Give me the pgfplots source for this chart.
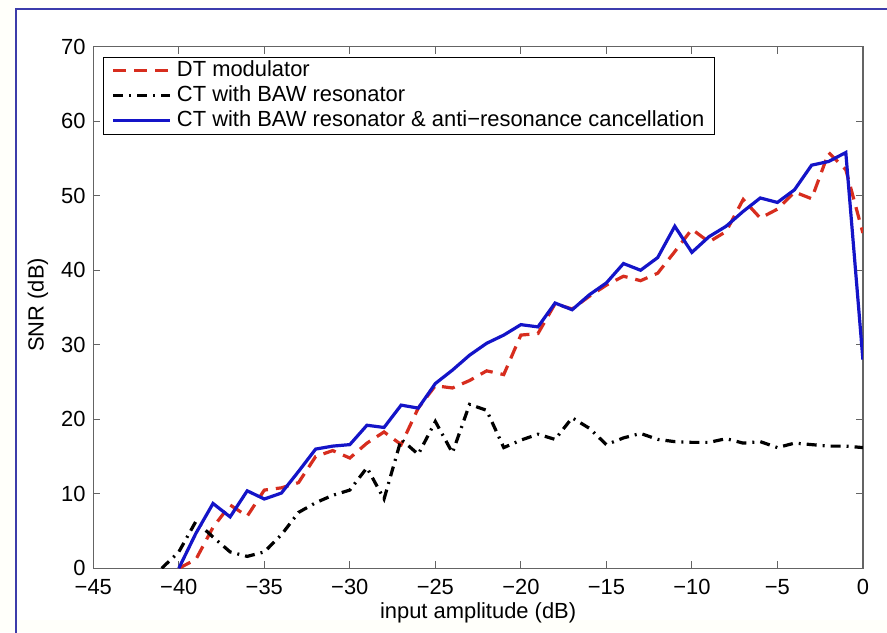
\documentclass[border=0pt]{standalone}
\usepackage{fontspec}
\setmainfont{Liberation Sans}
\usepackage{pgfplots}
\pgfplotsset{compat=1.18}
\definecolor{dtred}{RGB}{215,45,30}
\definecolor{ctblue}{RGB}{20,20,200}
\definecolor{framebl}{RGB}{60,60,170}
\definecolor{axgray}{RGB}{100,100,100}
\begin{document}
\fontsize{11}{13}\selectfont
\begin{tikzpicture}[x=1bp,y=1bp]
\useasboundingbox (-46.65,-31.85) rectangle (396.85,284.15);
\fill[yellow!2] (-46.65,-31.85) rectangle (396.85,284.15);
\fill[white] (-38.65,-26) rectangle (400,279.65);
\draw[framebl, line width=1bp] (-38.65,-40) -- (-38.65,279.65) -- (410,279.65);
\begin{axis}[at={(0,0)}, anchor=south west, scale only axis,
  width=384.8bp, height=260.8bp,
  xmin=-45, xmax=0, ymin=0, ymax=70,
  xtick={-45,-40,...,0},
  xticklabels={−45,−40,−35,−30,−25,−20,−15,−10,−5,0},
  ytick={0,10,...,70},
  tick align=inside, tick pos=both,
  major tick length=3.5bp,
  axis line style={axgray, line width=0.6bp},
  tick style={axgray, line width=0.6bp},
  /pgf/number format/assume math mode=true,
  tick label style={font=\fontsize{11}{13}\selectfont},
  x tick label style={yshift=-1.8bp},
  label style={font=\fontsize{11}{13}\selectfont},
  xlabel={input amplitude (dB)}, ylabel={SNR (dB)},
  xlabel style={at={(axis description cs:0.5,-0.085)}, anchor=center},
  ylabel style={at={(axis description cs:-0.072,0.505)}, anchor=center},
  legend cell align=left,
  legend image code/.code={\draw[#1] (0bp,0bp) -- (28.4bp,0bp);},
  legend style={at={(axis description cs:0.0126,0.981)}, anchor=north west,
    draw=black, line width=0.6bp, fill=white, row sep=0pt, column sep=1.5bp,
    inner xsep=4bp, inner ysep=0.5bp,
    nodes={inner sep=1.2bp, text height=7.8bp, text depth=2.3bp},
    font=\fontsize{11}{13}\selectfont},
]
\addplot[dtred, line width=1.6bp, dash pattern=on 6.5bp off 4bp] coordinates {
(-40,0) (-39,1.2) (-38,5.5) (-37,8.5) (-36,7.0) (-35,10.5) (-34,10.8) (-33,11.5)
(-32,15.0) (-31,15.8) (-30,14.8) (-29,16.8) (-28,18.3) (-27,16.6) (-26,21.5)
(-25,24.5) (-24,24.2) (-23,25.2) (-22,26.5) (-21,26.0) (-20,31.3) (-19,31.5)
(-18,35.5) (-17,34.8) (-16,36.5) (-15,38.0) (-14,39.2) (-13,38.6) (-12,39.6)
(-11,42.5) (-10,45.5) (-9,43.8) (-8,45.2) (-7,49.5) (-6,47.0) (-5,48.2)
(-4,50.5) (-3,49.6) (-2,55.8) (-1,53.5) (0,45.0)};
\addlegendentry{DT modulator}
\addplot[black, line width=1.6bp, dash pattern=on 5bp off 3bp on 1bp off 3bp] coordinates {
(-41,0) (-40,2.2) (-39,6.3) (-38,4.2) (-37,2.2) (-36,1.6) (-35,2.2) (-34,4.5)
(-33,7.5) (-32,8.8) (-31,9.8) (-30,10.5) (-29,13.5) (-28,9.3) (-27,17.3)
(-26,15.3) (-25,19.7) (-24,15.5) (-23,22.0) (-22,21.2) (-21,16.2) (-20,17.2)
(-19,18.0) (-18,17.3) (-17,20.2) (-16,18.8) (-15,16.6) (-14,17.5) (-13,18.1)
(-12,17.3) (-11,17.0) (-10,16.9) (-9,16.9) (-8,17.4) (-7,16.8) (-6,17.0)
(-5,16.2) (-4,16.8) (-3,16.6) (-2,16.4) (-1,16.4) (0,16.2)};
\addlegendentry{CT with BAW resonator}
\addplot[ctblue, line width=1.6bp] coordinates {
(-40,0) (-39,4.7) (-38,8.7) (-37,6.9) (-36,10.4) (-35,9.3) (-34,10.1) (-33,13.0)
(-32,16.0) (-31,16.4) (-30,16.6) (-29,19.2) (-28,18.9) (-27,21.9) (-26,21.5)
(-25,24.8) (-24,26.6) (-23,28.6) (-22,30.2) (-21,31.3) (-20,32.7) (-19,32.4)
(-18,35.6) (-17,34.7) (-16,36.7) (-15,38.3) (-14,40.9) (-13,40.0) (-12,41.7)
(-11,45.9) (-10,42.4) (-9,44.5) (-8,45.9) (-7,47.9) (-6,49.7) (-5,49.1)
(-4,50.8) (-3,54.1) (-2,54.6) (-1,55.8) (0,28.0)};
\addlegendentry{CT with BAW resonator \& anti−resonance cancellation}
\end{axis}
\end{tikzpicture}
\end{document}
